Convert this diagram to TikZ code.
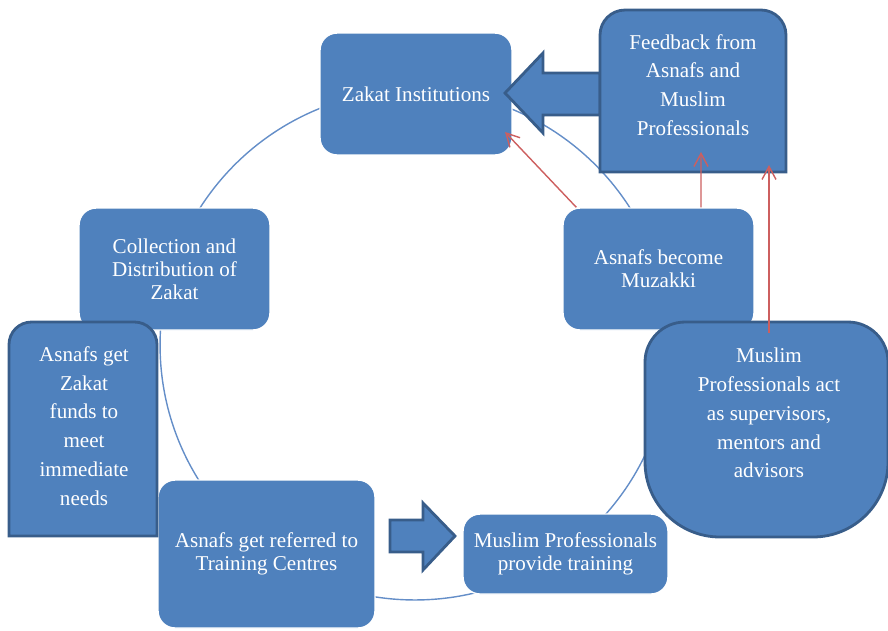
\documentclass[tikz,border=0pt]{standalone}
\usepackage{fontspec}
\setmainfont{Liberation Serif}
\usetikzlibrary{arrows.meta,calc}
\definecolor{zblue}{RGB}{79,129,189}
\definecolor{zedge}{RGB}{56,93,138}
\definecolor{zring}{RGB}{100,142,200}
\definecolor{zred}{RGB}{205,95,95}
\tikzset{
box/.style={rectangle,rounded corners=0.34cm,fill=zblue,draw=white,line width=0.8pt,
  inner sep=0pt,text=white,align=center,font=\fontsize{12}{13}\selectfont},
tabbox/.style={fill=zblue,draw=zedge,line width=1.6pt},
blockarrow/.style={fill=zblue,draw=zedge,line width=1.6pt,line join=miter},
looselbl/.style={text=white,align=center,inner sep=0pt,font=\fontsize{12}{16.4}\selectfont},
ring/.style={draw=zring,line width=0.8pt},
feed/.style={draw=zred,line width=0.8pt,-{Straight Barb[length=2.6mm,width=2.8mm]}}
}
\begin{document}
\begin{tikzpicture}[x=0.02cm,y=-0.02cm]
\useasboundingbox (0,0) rectangle (888,630);
% cycle ring
\draw[ring] (415,345) circle [radius=5.1cm];
% cycle steps
\node[box,minimum width=3.84cm,minimum height=2.44cm] (zi) at (416,94) {Zakat Institutions};
\node[box,minimum width=3.82cm,minimum height=2.44cm] (col) at (174.5,269) {Collection and\\Distribution of\\Zakat};
\node[box,minimum width=3.82cm,minimum height=2.44cm] (mz) at (658.5,269) {Asnafs become\\Muzakki};
\node[box,minimum width=4.34cm,minimum height=2.96cm] (ref) at (266.5,554) {Asnafs get referred to\\Training Centres};
\node[box,minimum width=4.1cm,minimum height=1.6cm] (tr) at (565.5,554) {Muslim Professionals\\provide training};
% block arrows
\draw[blockarrow] (600,73) -- (543,73) -- (543,53) -- (505,93) -- (543,133) -- (543,115) -- (600,115) -- cycle;
\draw[blockarrow] (390,520) -- (423,520) -- (423,503) -- (455,536) -- (423,570) -- (423,552) -- (390,552) -- cycle;
% side shapes
\draw[tabbox] (600,172) -- (600,35) arc[start angle=180,end angle=90,radius=0.5cm]
  -- (761,10) arc[start angle=90,end angle=0,radius=0.5cm] -- (786,172) -- cycle;
\draw[tabbox] (9,536) -- (9,344.5) arc[start angle=180,end angle=90,radius=0.45cm]
  -- (134.5,322) arc[start angle=90,end angle=0,radius=0.45cm] -- (157,536) -- cycle;
\draw[tabbox] (645,362) arc[start angle=180,end angle=90,radius=0.8cm]
  -- (848,322) arc[start angle=90,end angle=0,radius=0.8cm]
  -- (888,462) arc[start angle=0,end angle=-90,radius=1.5cm]
  -- (720,537) arc[start angle=-90,end angle=-180,radius=1.5cm] -- cycle;
\node[looselbl] (fb) at (693,85) {Feedback from\\Asnafs and\\Muslim\\Professionals};
\node[looselbl] (asn) at (84,426) {Asnafs get\\Zakat\\funds to\\meet\\immediate\\needs};
\node[looselbl] (mnt) at (769,413) {Muslim\\Professionals act\\as supervisors,\\mentors and\\advisors};
% feedback links
\coordinate (zihit) at (505,132);
\coordinate (fbhit) at (701,152);
\coordinate (fbhitb) at (769,165);
\coordinate (mnttop) at (769,333);
\draw[feed] ([xshift=0.28cm]mz.north west) -- (zihit);
\draw[feed] ([xshift=0.85cm]mz.north) -- (fbhit);
\draw[feed] (mnttop) -- (fbhitb);
\end{tikzpicture}
\end{document}
